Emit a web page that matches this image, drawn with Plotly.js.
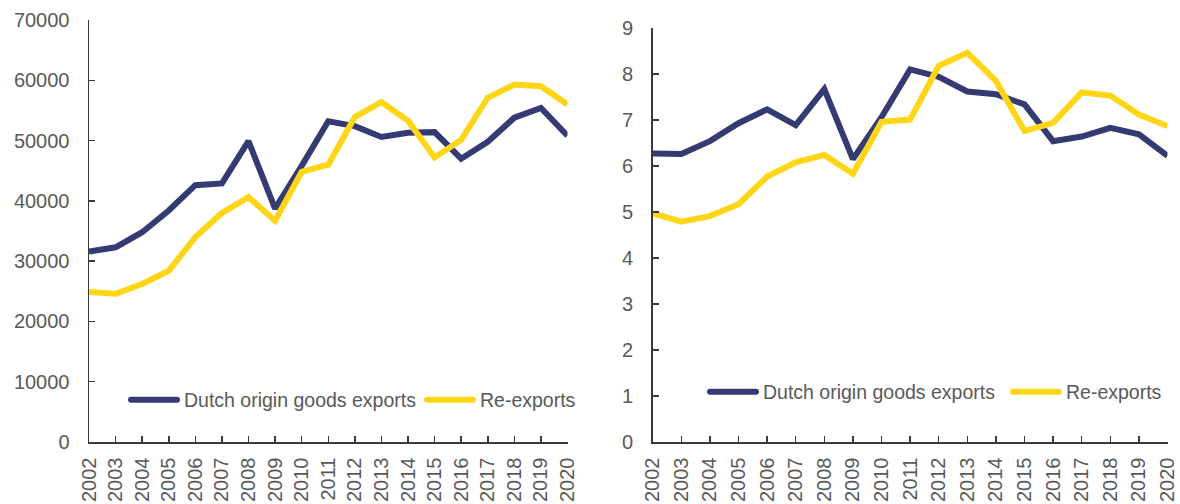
<!DOCTYPE html>
<html>
<head>
<meta charset="utf-8">
<script src="https://cdn.plot.ly/plotly-3.0.1.min.js"></script>
<style>
  html, body { margin: 0; padding: 0; background: #fff; }
  #chart { width: 1180px; height: 504px; }
</style>
</head>
<body>
<div id="chart"></div>
<script>
// ---- Data ----
const years = ['2002','2003','2004','2005','2006','2007','2008','2009','2010','2011',
               '2012','2013','2014','2015','2016','2017','2018','2019','2020'];

// Left panel: values (EUR million)
const dutchOriginValue = [31600, 32300, 34800, 38400, 42600, 42900, 49900, 38700, 45800, 53200,
                          52400, 50600, 51300, 51400, 47000, 49800, 53800, 55400, 50800];
const reExportsValue   = [24900, 24600, 26200, 28400, 34000, 38000, 40600, 36700, 44800, 46000,
                          53900, 56400, 53300, 47200, 50100, 57100, 59300, 59000, 56000];

// Right panel: shares (%)
const dutchOriginShare = [6.27, 6.26, 6.54, 6.93, 7.23, 6.89, 7.67, 6.15, 7.06, 8.10,
                          7.94, 7.62, 7.56, 7.34, 6.54, 6.64, 6.83, 6.69, 6.22];
const reExportsShare   = [4.97, 4.79, 4.91, 5.17, 5.77, 6.08, 6.24, 5.83, 6.96, 7.01,
                          8.18, 8.46, 7.85, 6.76, 6.94, 7.60, 7.53, 7.12, 6.87];

const seriesNames = ['Dutch origin goods exports', 'Re-exports'];

// ---- Styles ----
const NAVY = '#343B72';
const YELLOW = '#FFD617';
const TEXT = '#595959';
const AXIS = '#3a3a3a';
const FONT = 'Liberation Sans, Arial, sans-serif';

const traces = [
  { x: years, y: dutchOriginValue, name: seriesNames[0], type: 'scatter', mode: 'lines',
    line: { color: NAVY, width: 6 }, xaxis: 'x', yaxis: 'y', legend: 'legend' },
  { x: years, y: reExportsValue, name: seriesNames[1], type: 'scatter', mode: 'lines',
    line: { color: YELLOW, width: 6 }, xaxis: 'x', yaxis: 'y', legend: 'legend' },
  { x: years, y: dutchOriginShare, name: seriesNames[0], type: 'scatter', mode: 'lines',
    line: { color: NAVY, width: 6 }, xaxis: 'x2', yaxis: 'y2', legend: 'legend2' },
  { x: years, y: reExportsShare, name: seriesNames[1], type: 'scatter', mode: 'lines',
    line: { color: YELLOW, width: 6 }, xaxis: 'x2', yaxis: 'y2', legend: 'legend2' }
];

const W = 1180, H = 504;
function xa(domain, anchor) {
  return {
    domain: domain, anchor: anchor, type: 'category', range: [0, 18],
    showline: true, linecolor: AXIS, linewidth: 1.5,
    ticks: 'inside', ticklen: 6, tickwidth: 1.5, tickcolor: AXIS,
    tickangle: -90, ticklabelstandoff: 6,
    tickfont: { family: FONT, size: 20, color: TEXT },
    showgrid: false, zeroline: false, automargin: false, fixedrange: true
  };
}
function ya(domain, anchor, range, dtick) {
  return {
    domain: domain, anchor: anchor, range: range, dtick: dtick,
    showline: true, linecolor: AXIS, linewidth: 1.5,
    ticks: 'inside', ticklen: 6, tickwidth: 1.5, tickcolor: AXIS,
    ticklabelstandoff: 14, tickformat: 'd',
    tickfont: { family: FONT, size: 20, color: TEXT },
    showgrid: false, zeroline: false, automargin: false, fixedrange: true
  };
}

const layout = {
  width: W, height: H,
  margin: { l: 0, r: 0, t: 0, b: 0, pad: 0, autoexpand: false },
  paper_bgcolor: '#fff', plot_bgcolor: 'rgba(0,0,0,0)',
  font: { family: FONT, color: TEXT, size: 20 },
  xaxis: xa([89 / W, 567.5 / W], 'y'),
  yaxis: ya([(H - 442) / H, (H - 20) / H], 'x', [0, 70000], 10000),
  xaxis2: xa([652.7 / W, 1167.5 / W], 'y2'),
  yaxis2: ya([(H - 442) / H, (H - 28) / H], 'x2', [0, 9], 1),
  legend: {
    orientation: 'h', x: 144 / W, y: (H - 400) / H, xanchor: 'left', yanchor: 'middle',
    bgcolor: 'rgba(0,0,0,0)', font: { family: FONT, size: 19.5, color: TEXT },
    entrywidth: 251, entrywidthmode: 'pixels',
    itemclick: false, itemdoubleclick: false, tracegroupgap: 0
  },
  legend2: {
    orientation: 'h', x: 723 / W, y: (H - 392) / H, xanchor: 'left', yanchor: 'middle',
    bgcolor: 'rgba(0,0,0,0)', font: { family: FONT, size: 19.5, color: TEXT },
    entrywidth: 258, entrywidthmode: 'pixels',
    itemclick: false, itemdoubleclick: false, tracegroupgap: 0
  },
  showlegend: true
};

Plotly.newPlot('chart', traces, layout, { staticPlot: true, displayModeBar: false }).then(function (gd) {
  // longer, round-capped legend samples as in the original (unclip the legend boxes)
  gd.querySelectorAll('g.legend [clip-path], g.legend2 [clip-path], g.legend, g.legend2').forEach(function (el) {
    el.removeAttribute('clip-path');
  });
  gd.querySelectorAll('.legendlines path').forEach(function (p) {
    p.setAttribute('d', 'M-13,0h46');
    p.style.strokeLinecap = 'round';
  });
});
</script>
</body>
</html>
